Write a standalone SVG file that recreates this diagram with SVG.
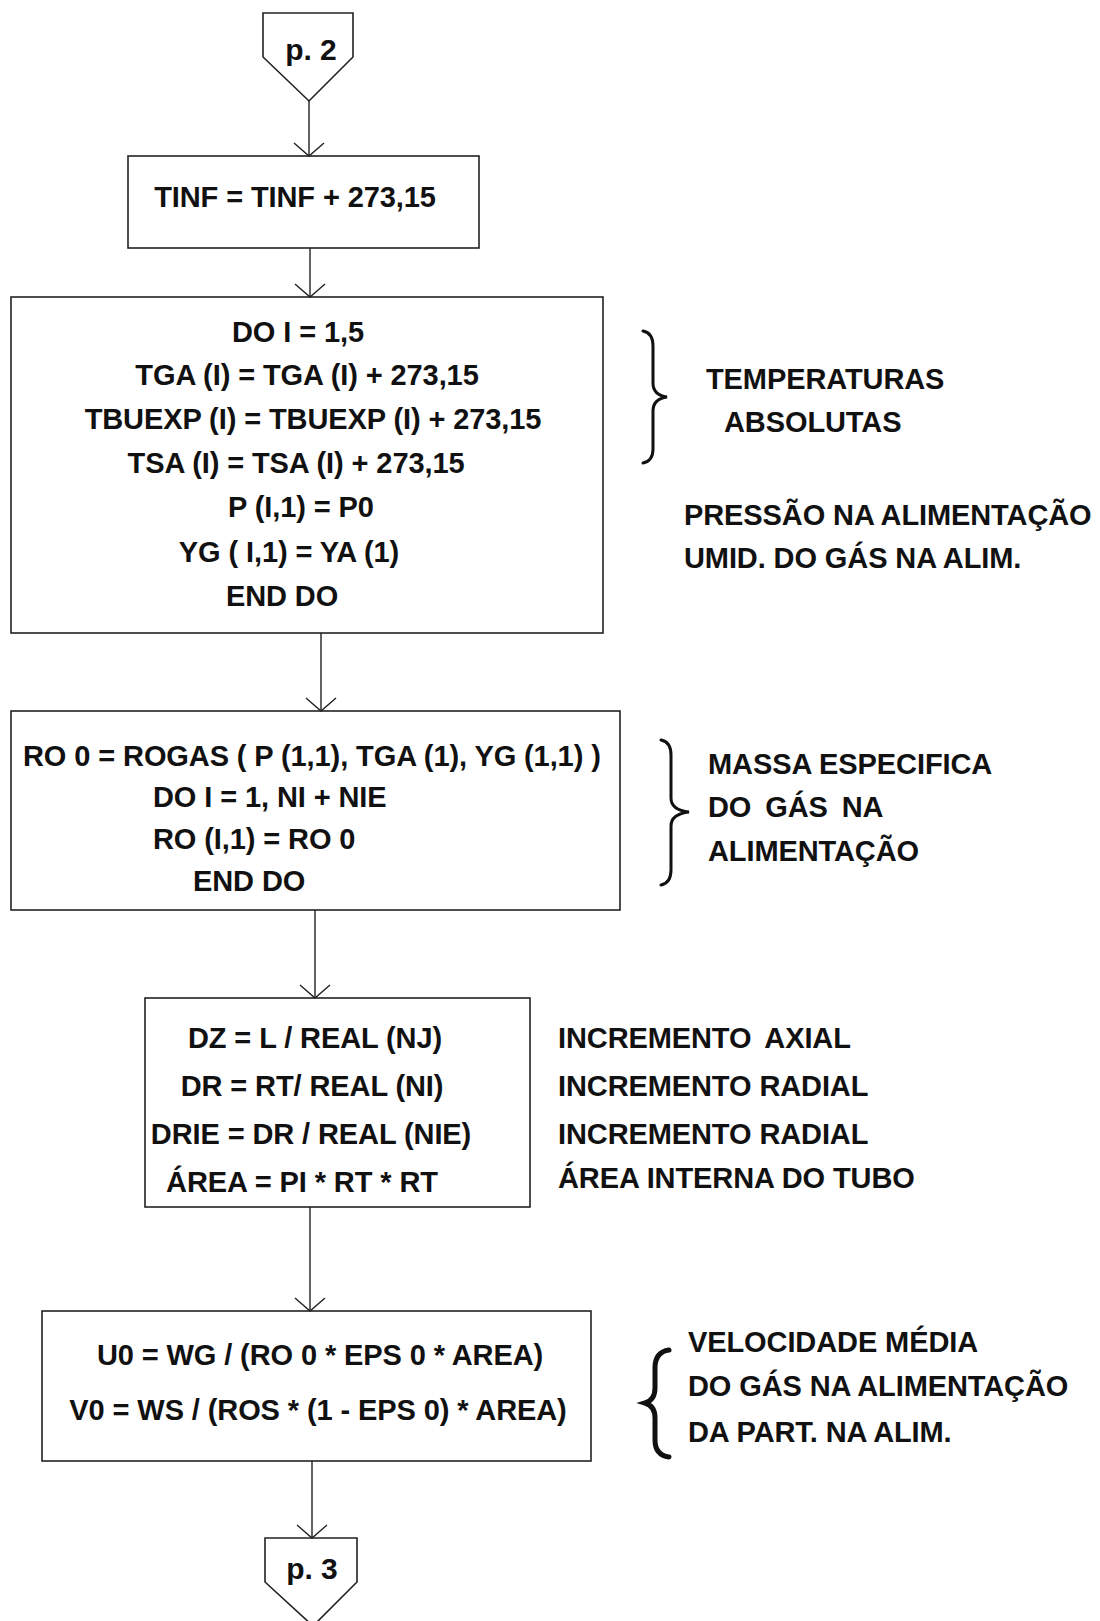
<svg xmlns="http://www.w3.org/2000/svg" width="1100" height="1621" viewBox="0 0 1100 1621">
<defs>
<style>
.box{fill:#fff;stroke:#222;stroke-width:1.6}
.t{font-family:"Liberation Sans",Arial,sans-serif;font-weight:bold;font-size:29px;fill:#111;letter-spacing:-0.1px}
.c{text-anchor:middle}
.ln{stroke:#222;stroke-width:1.4;fill:none}
.br{stroke:#111;stroke-width:3;fill:none;stroke-linecap:round}
</style>
<marker id="ah" markerUnits="userSpaceOnUse" viewBox="-15 -16 17 32" refX="0" refY="0" markerWidth="17" markerHeight="32" orient="auto" overflow="visible">
<path d="M-13,-15 L0,0 L-13,15" fill="none" stroke="#222" stroke-width="1.4"/>
</marker>
</defs>
<rect width="1100" height="1621" fill="#fff"/>

<g id="p2">
<path class="box" d="M263,13 L353,13 L353,57 L309,101 L263,57 Z"/>
<text class="t c" x="311" y="60" style="font-size:30px">p. 2</text>
</g>

<g id="n1">
<rect class="box" x="128" y="156" width="351" height="92"/>
<text class="t c" x="295" y="207">TINF = TINF + 273,15</text>
</g>

<g id="n2">
<rect class="box" x="11" y="297" width="592" height="336"/>
<text class="t c" x="298" y="342">DO I = 1,5</text>
<text class="t c" x="307" y="385">TGA (I) = TGA (I) + 273,15</text>
<text class="t c" x="313" y="429">TBUEXP (I) = TBUEXP (I) + 273,15</text>
<text class="t c" x="296" y="473">TSA (I) = TSA (I) + 273,15</text>
<text class="t c" x="301" y="517">P (I,1) = P0</text>
<text class="t c" x="289" y="562">YG ( I,1) = YA (1)</text>
<text class="t c" x="282" y="606">END DO</text>
</g>

<g id="a2">
<path class="br" d="M643,331 Q653,333 653,346 L653,383 Q653,395 667,397 Q653,399 653,411 L653,449 Q653,461 643,463"/>
<text class="t" x="706" y="389">TEMPERATURAS</text>
<text class="t" x="724" y="432">ABSOLUTAS</text>
<text class="t" x="684" y="525">PRESSÃO NA ALIMENTAÇÃO</text>
<text class="t" x="684" y="568">UMID. DO GÁS NA ALIM.</text>
</g>

<g id="n3">
<rect class="box" x="11" y="711" width="609" height="199"/>
<text class="t" x="23" y="766">RO 0 = ROGAS ( P (1,1), TGA (1), YG (1,1) )</text>
<text class="t" x="153" y="807">DO I = 1, NI + NIE</text>
<text class="t" x="153" y="849">RO (I,1) = RO 0</text>
<text class="t" x="193" y="891">END DO</text>
</g>

<g id="a3">
<path class="br" d="M661,740 Q671,742 671,755 L671,798 Q671,810 689,812 Q671,814 671,826 L671,870 Q671,883 661,885"/>
<text class="t" x="708" y="774">MASSA ESPECIFICA</text>
<text class="t" x="708" y="817" style="word-spacing:6px">DO GÁS NA</text>
<text class="t" x="708" y="861">ALIMENTAÇÃO</text>
</g>

<g id="n4">
<rect class="box" x="145" y="998" width="385" height="209"/>
<text class="t c" x="315" y="1048">DZ = L / REAL (NJ)</text>
<text class="t c" x="312" y="1096">DR = RT/ REAL (NI)</text>
<text class="t c" x="311" y="1144">DRIE = DR / REAL (NIE)</text>
<text class="t c" x="302" y="1192">ÁREA = PI * RT * RT</text>
</g>

<g id="a4">
<text class="t" x="558" y="1048" style="word-spacing:6px">INCREMENTO AXIAL</text>
<text class="t" x="558" y="1096">INCREMENTO RADIAL</text>
<text class="t" x="558" y="1144">INCREMENTO RADIAL</text>
<text class="t" x="558" y="1188">ÁREA INTERNA DO TUBO</text>
</g>

<g id="n5">
<rect class="box" x="42" y="1311" width="549" height="150"/>
<text class="t c" x="320" y="1365">U0 = WG / (RO 0 * EPS 0 * AREA)</text>
<text class="t c" x="318" y="1420">V0 = WS / (ROS * (1 - EPS 0) * AREA)</text>
</g>

<g id="a5">
<path d="M669,1350 Q655,1352 655,1368 L655,1388 Q655,1400 645,1403 Q655,1406 655,1418 L655,1440 Q655,1455 669,1457" fill="none" stroke="#111" stroke-width="5" stroke-linecap="round"/>
<text class="t" x="688" y="1352">VELOCIDADE MÉDIA</text>
<text class="t" x="688" y="1396">DO GÁS NA ALIMENTAÇÃO</text>
<text class="t" x="688" y="1442">DA PART. NA ALIM.</text>
</g>

<g id="p3">
<path class="box" d="M265,1538 L357,1538 L357,1582 L313,1626 L265,1582 Z"/>
<text class="t c" x="312" y="1579" style="font-size:30px">p. 3</text>
</g>

<g id="connectors">
<line class="ln" x1="309" y1="101" x2="309" y2="156" marker-end="url(#ah)"/>
<line class="ln" x1="310" y1="248" x2="310" y2="297" marker-end="url(#ah)"/>
<line class="ln" x1="321" y1="633" x2="321" y2="711" marker-end="url(#ah)"/>
<line class="ln" x1="315" y1="910" x2="315" y2="998" marker-end="url(#ah)"/>
<line class="ln" x1="310" y1="1207" x2="310" y2="1311" marker-end="url(#ah)"/>
<line class="ln" x1="312" y1="1461" x2="312" y2="1538" marker-end="url(#ah)"/>
</g>
</svg>
